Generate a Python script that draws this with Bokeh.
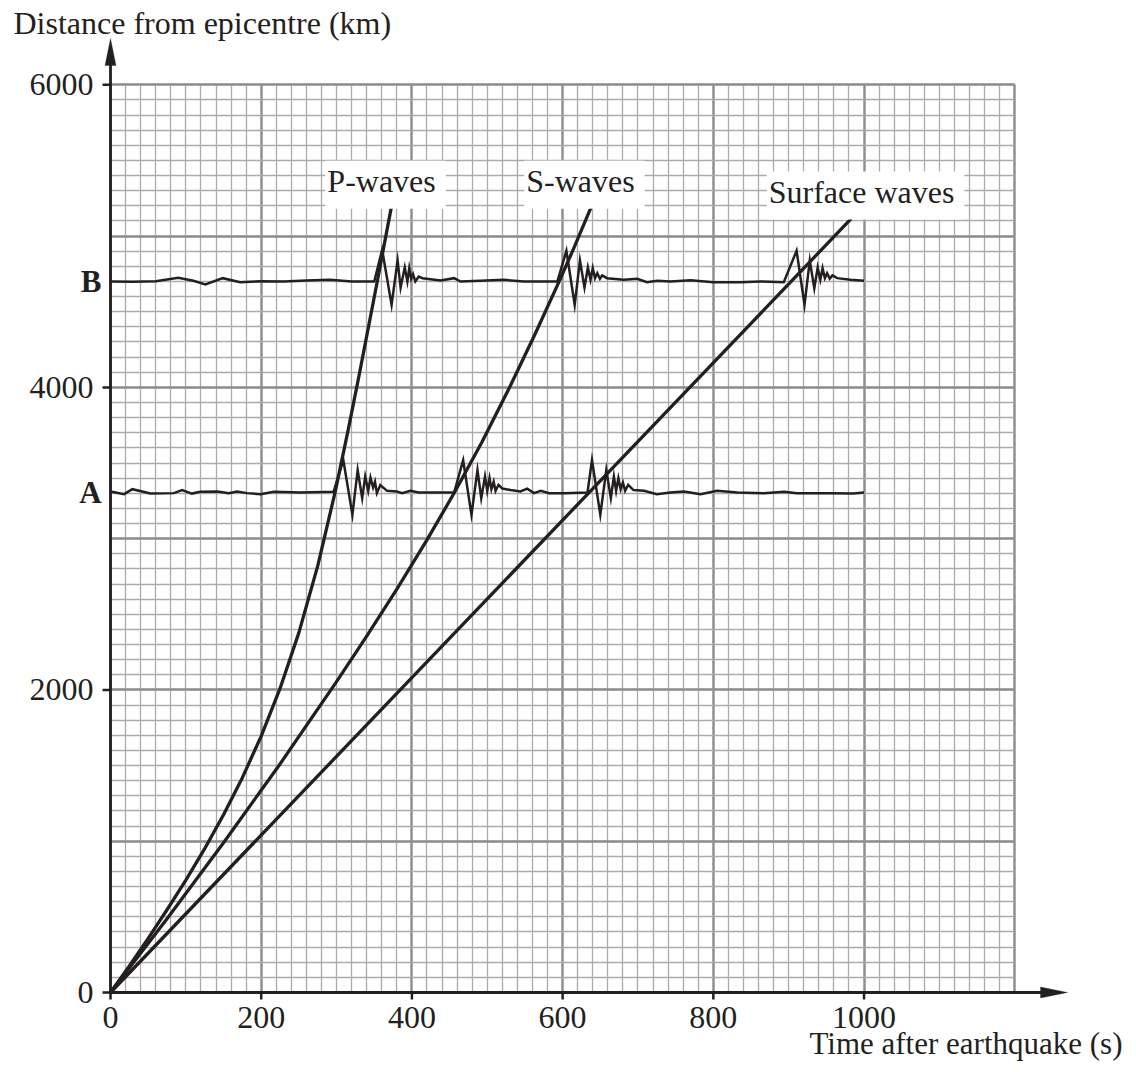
from bokeh.plotting import figure
from bokeh.models import Range1d, FixedTicker, Label, PolyAnnotation
from bokeh.core.properties import value
from bokeh.embed import file_html
from bokeh.resources import INLINE

# ---------------- data ----------------
x_ticks = [0, 200, 400, 600, 800, 1000]
y_ticks = [0, 2000, 4000, 6000]
grid_x_major = list(range(0, 1201, 200))
grid_x_minor = list(range(0, 1201, 20))
grid_y_major = list(range(0, 6001, 1000))
grid_y_minor = list(range(0, 6001, 100))

# travel-time curves (time s, distance km)
p_wave_t = [0, 25, 50, 75, 100, 125, 150, 175, 200, 225, 250, 275, 298, 315, 330, 354, 373]
p_wave_d = [0, 176, 358, 547, 743, 951, 1175, 1420, 1695, 2010, 2379, 2820, 3306, 3709,
            4082, 4700, 5200]
s_wave_t = [0, 75, 150, 225, 300, 340, 380, 420, 457, 493, 530, 563, 595, 615, 638]
s_wave_d = [0, 488, 990, 1511, 2055, 2356, 2667, 2992, 3310, 3639, 4004, 4348, 4696, 4922, 5193]
surface_t = [0, 982]
surface_d = [0, 5110]

# seismograms recorded at stations A and B (time s, plotted distance km)
trace_A = [(0, 3312), (18, 3294), (29, 3327), (53, 3298), (84, 3301), (95, 3321), (108, 3298),
           (119, 3310), (142, 3312), (157, 3301), (168, 3312), (181, 3301), (199, 3294), (217, 3310),
           (252, 3305), (296, 3310), (309, 3519), (321, 3158), (328, 3453), (334, 3268), (338, 3411),
           (342, 3316), (345, 3404), (348.5, 3338), (351, 3376), (353.5, 3301), (358, 3354), (367, 3316),
           (380, 3312), (387, 3301), (398, 3316), (409, 3305), (456, 3305), (468, 3519), (479, 3158),
           (487, 3453), (492, 3268), (497, 3411), (500, 3316), (503, 3400), (505.5, 3327), (508.5, 3376),
           (511, 3316), (515, 3356), (520, 3331), (531, 3321), (544, 3312), (553, 3331), (562, 3301),
           (571, 3316), (582, 3301), (602, 3301), (633, 3305), (639, 3519), (650, 3158), (658, 3453),
           (664, 3268), (668, 3411), (671, 3316), (674, 3400), (677, 3327), (680, 3371), (683, 3316),
           (687, 3356), (694, 3321), (708, 3316), (725, 3294), (743, 3305), (761, 3312), (783, 3294),
           (805, 3316), (832, 3305), (867, 3301), (894, 3310), (911, 3301), (955, 3301), (986, 3298),
           (1000, 3305)]
trace_B = [(0, 4700), (30, 4698), (60, 4702), (90, 4725), (110, 4705), (126, 4680), (149, 4722),
           (172, 4695), (200, 4702), (230, 4700), (260, 4706), (291, 4711), (320, 4700), (350, 4700),
           (360.5, 4910), (373, 4546), (381, 4839), (385, 4660), (390.5, 4793), (394, 4700), (396.5, 4788),
           (399, 4718), (401.5, 4748), (404.5, 4700), (409, 4733), (414, 4722), (438, 4707), (456, 4722),
           (464.5, 4700), (491, 4705), (522, 4711), (548.5, 4700), (593, 4700), (605, 4903), (616, 4546),
           (623, 4839), (629, 4660), (633.5, 4793), (637, 4711), (640, 4788), (643, 4722), (646, 4755),
           (649.5, 4718), (652.5, 4740), (659, 4722), (681, 4711), (699, 4718), (712, 4695), (725.5, 4705),
           (743, 4700), (770, 4708), (800, 4695), (836, 4695), (862.5, 4700), (893.5, 4695), (910.5, 4903),
           (921, 4546), (928, 4839), (934, 4656), (938.5, 4793), (942, 4711), (945, 4788), (948, 4722),
           (951, 4755), (954.5, 4718), (958, 4740), (964.5, 4722), (982, 4711), (1000, 4705)]
A_t, A_d = [a for a, b in trace_A], [b for a, b in trace_A]
B_t, B_d = [a for a, b in trace_B], [b for a, b in trace_B]

station_names = ["A", "B"]
station_levels = [3305, 4700]
wave_names = ["P-waves", "S-waves", "Surface waves"]

# ---------------- layout / style ----------------
INK = "#231f20"
FONT = "Liberation Serif"
W, H = 1136, 1072
X0, X1 = -146.0, 1361.6          # data range covering the whole canvas
Y0, Y1 = -528.8, 6557.4
SX = W / (X1 - X0)               # px per second
SY = H / (Y1 - Y0)               # px per km
X_TIP, Y_TIP = 1270, 6306        # axis arrow tips


def dx(px):
    return px / SX


def dy(px):
    return px / SY


p = figure(width=W, height=H, x_range=Range1d(X0, X1), y_range=Range1d(Y0, Y1),
           x_axis_location=None, y_axis_location=None,
           output_backend="svg", toolbar_location=None, min_border=0)
p.outline_line_color = None
p.background_fill_color = "white"
p.border_fill_color = "white"

# graph-paper grid
p.xgrid.ticker = FixedTicker(ticks=grid_x_major, minor_ticks=grid_x_minor)
p.ygrid.ticker = FixedTicker(ticks=grid_y_major, minor_ticks=grid_y_minor)
p.xgrid.bounds = (0, 1200)
p.ygrid.bounds = (0, 6000)
p.xgrid.cross_bounds = (0, 6000)
p.ygrid.cross_bounds = (0, 1200)
for g in (p.xgrid[0], p.ygrid[0]):
    g.grid_line_color = "#8e8e8e"
    g.grid_line_width = 2.4
    g.minor_grid_line_color = "#ababab"
    g.minor_grid_line_width = 1.3

# axes: lines, ticks, tick labels, arrow heads
head_len, head_half = dx(27), dy(5.5)
p.segment(x0=[0], y0=[0], x1=[X_TIP - head_len + dx(2)], y1=[0], line_color=INK, line_width=2.8)
p.segment(x0=[0], y0=[0], x1=[0], y1=[Y_TIP - dy(27) + dy(2)], line_color=INK, line_width=2.8)
p.segment(x0=x_ticks, y0=[0] * len(x_ticks), x1=x_ticks, y1=[-dy(7)] * len(x_ticks),
          line_color=INK, line_width=2.5)
p.segment(x0=[0] * len(y_ticks), y0=y_ticks, x1=[-dx(8)] * len(y_ticks), y1=y_ticks,
          line_color=INK, line_width=2.5)
p.text(x=x_ticks, y=[0] * len(x_ticks), text=[str(v) for v in x_ticks], y_offset=25,
       text_align="center", text_baseline="middle", text_font=value(FONT),
       text_font_size=value("32px"), text_color=INK)
p.text(x=[0] * len(y_ticks), y=y_ticks, text=[str(v) for v in y_ticks], x_offset=-17,
       text_align="right", text_baseline="middle", text_font=value(FONT),
       text_font_size=value("32px"), text_color=INK)
p.add_layout(PolyAnnotation(xs=[X_TIP, X_TIP - head_len, X_TIP - head_len],
                            ys=[0, head_half, -head_half],
                            fill_color=INK, fill_alpha=1.0, line_color=INK, line_width=1))
p.add_layout(PolyAnnotation(xs=[0, -dx(5.5), dx(5.5)], ys=[Y_TIP, Y_TIP - dy(27), Y_TIP - dy(27)],
                            fill_color=INK, fill_alpha=1.0, line_color=INK, line_width=1))

# curves
for t, d in ((p_wave_t, p_wave_d), (s_wave_t, s_wave_d), (surface_t, surface_d)):
    p.line(t, d, line_color=INK, line_width=3.3, line_join="round", line_cap="round")

# seismograms
for t, d in ((A_t, A_d), (B_t, B_d)):
    p.line(t, d, line_color=INK, line_width=2.5, line_join="miter")

# curve labels with white boxes
wave_label_pos = [(365, 5340), (629, 5340), (1002, 5268)]
for name, (lx, ly) in zip(wave_names, wave_label_pos):
    p.add_layout(Label(x=lx, y=ly, text=name, text_align="center", text_baseline="middle",
                       text_font=FONT, text_font_size="32px", text_color=INK,
                       background_fill_color="white", padding=(2, 10, 2, 10)))

# station labels
for name, lev in zip(station_names, station_levels):
    p.add_layout(Label(x=0, y=lev, x_offset=-9, text=name, text_align="right",
                       text_baseline="middle", text_font=FONT, text_font_size="31px",
                       text_font_style="bold", text_color=INK))

# axis titles
p.add_layout(Label(x=X0 + dx(13), y=Y1 - dy(22), text="Distance from epicentre (km)",
                   text_align="left", text_baseline="middle", text_font=FONT,
                   text_font_size="32px", text_color=INK))
p.add_layout(Label(x=X0 + dx(1122), y=Y1 - dy(1043), text="Time after earthquake (s)",
                   text_align="right", text_baseline="middle", text_font=FONT,
                   text_font_size="31px", text_color=INK))

open("out.html", "w").write(file_html(p, INLINE))
